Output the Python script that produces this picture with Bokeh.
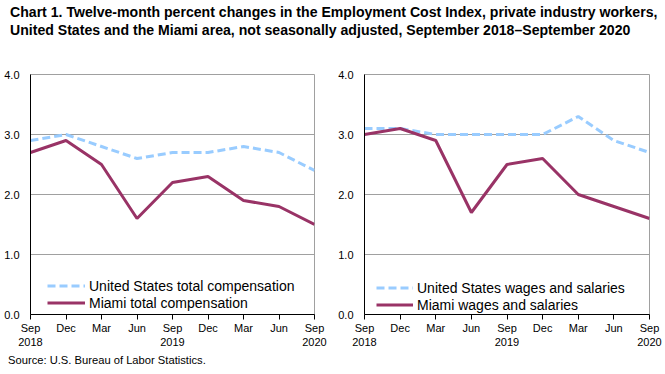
from bokeh.plotting import figure
from bokeh.models import (FixedTicker, PrintfTickFormatter, Legend, LegendItem,
                          Label, Div, Range1d)
from bokeh.layouts import column, row
from bokeh.embed import file_html
from bokeh.resources import INLINE

quarters = ["Sep 2018", "Dec 2018", "Mar 2019", "Jun 2019", "Sep 2019",
            "Dec 2019", "Mar 2020", "Jun 2020", "Sep 2020"]
tick_labels = ["Sep\n2018", "Dec", "Mar", "Jun", "Sep\n2019", "Dec", "Mar", "Jun", "Sep\n2020"]

us_total_comp = [2.9, 3.0, 2.8, 2.6, 2.7, 2.7, 2.8, 2.7, 2.4]
miami_total_comp = [2.7, 2.9, 2.5, 1.6, 2.2, 2.3, 1.9, 1.8, 1.5]
us_wages = [3.1, 3.1, 3.0, 3.0, 3.0, 3.0, 3.3, 2.9, 2.7]
miami_wages = [3.0, 3.1, 2.9, 1.7, 2.5, 2.6, 2.0, 1.8, 1.6]

y_ticks = [0, 1, 2, 3, 4]

TITLE = ("Chart 1. Twelve-month percent changes in the Employment Cost Index, private industry workers,"
         "<br>United States and the Miami area, not seasonally adjusted, September 2018\u2013September 2020")
SOURCE = "Source: U.S. Bureau of Labor Statistics."

FONT = "Liberation Sans"
BLUE = "#99CCFF"
MAROON = "#993366"
GRID = "#A0A0A0"

x = list(range(len(quarters)))


def make_panel(us, mia, us_label, mia_label, width, height, bl, br, bt, bb, leg_loc, glyph_w, pc_off):
    p = figure(width=width, height=height, output_backend="svg", toolbar_location=None,
               min_border_left=bl, min_border_right=br, min_border_top=bt, min_border_bottom=bb,
               x_range=Range1d(0, len(quarters) - 1), y_range=Range1d(0, 4))
    p.outline_line_color = GRID
    p.outline_line_width = 1
    p.background_fill_color = "white"
    p.border_fill_color = "white"
    p.xgrid.visible = False
    p.ygrid.grid_line_color = GRID
    p.ygrid.grid_line_width = 1
    p.ygrid.ticker = FixedTicker(ticks=y_ticks)

    ya = p.yaxis[0]
    ya.ticker = FixedTicker(ticks=y_ticks)
    ya.formatter = PrintfTickFormatter(format="%.1f")
    ya.major_tick_out = 0
    ya.major_tick_in = 0
    ya.minor_tick_out = 0
    ya.minor_tick_in = 0
    ya.axis_line_color = "black"
    ya.major_label_standoff = 11
    ya.major_label_text_font = FONT
    ya.major_label_text_font_size = "11px"
    ya.major_label_text_color = "black"

    xa = p.xaxis[0]
    xa.ticker = FixedTicker(ticks=x)
    xa.major_label_overrides = {i: t for i, t in zip(x, tick_labels)}
    xa.major_tick_out = 5
    xa.major_tick_in = 0
    xa.minor_tick_out = 0
    xa.minor_tick_in = 0
    xa.axis_line_color = "black"
    xa.major_tick_line_color = "black"
    xa.major_label_standoff = 2
    xa.major_label_text_font = FONT
    xa.major_label_text_font_size = "11px"
    xa.major_label_text_color = "black"

    r_us = p.line(x, us, line_color=BLUE, line_width=3, line_dash="8 4")
    r_mia = p.line(x, mia, line_color=MAROON, line_width=3)

    leg = Legend(items=[LegendItem(label=us_label, renderers=[r_us]),
                        LegendItem(label=mia_label, renderers=[r_mia])],
                 location=leg_loc, padding=0, margin=0, spacing=0,
                 border_line_color=None, background_fill_alpha=0,
                 glyph_width=glyph_w, glyph_height=17, label_height=17,
                 label_standoff=4, label_text_font=FONT, label_text_font_size="14px",
                 label_text_color="black")
    p.add_layout(leg)

    p.add_layout(Label(x=0, y=4, x_offset=pc_off, y_offset=12, text="Percent change",
                       text_font=FONT, text_font_size="14px", text_color="black",
                       text_baseline="alphabetic", text_align="left"))
    return p


p1 = make_panel(us_total_comp, miami_total_comp, "United States total compensation",
                "Miami total compensation", 332, 310, 30, 18, 32, 38, (17, 3), 38, -22)
p2 = make_panel(us_wages, miami_wages, "United States wages and salaries",
                "Miami wages and salaries", 333, 310, 32, 16, 31, 38, (12, 1), 37, -23)

title = Div(text=f'<div style="font-family:\'{FONT}\',Arial,sans-serif;font-weight:bold;'
                 f'font-size:14.1px;line-height:18px;padding-left:10px;padding-top:3px;'
                 f'color:black;white-space:nowrap;">{TITLE}</div>',
            width=665, height=42, margin=(0, 0, 0, 0))

source = Div(text=f'<div style="font-family:\'{FONT}\',Arial,sans-serif;'
                  f'font-size:11.2px;line-height:12px;padding-left:8px;padding-top:0px;'
                  f'color:black;white-space:nowrap;">{SOURCE}</div>',
             width=665, height=22, margin=(0, 0, 0, 0))

layout = column(title, row(p1, p2, margin=(0, 0, 0, 0)), source, margin=(0, 0, 0, 0))

open("out.html", "w").write(file_html(layout, INLINE))
